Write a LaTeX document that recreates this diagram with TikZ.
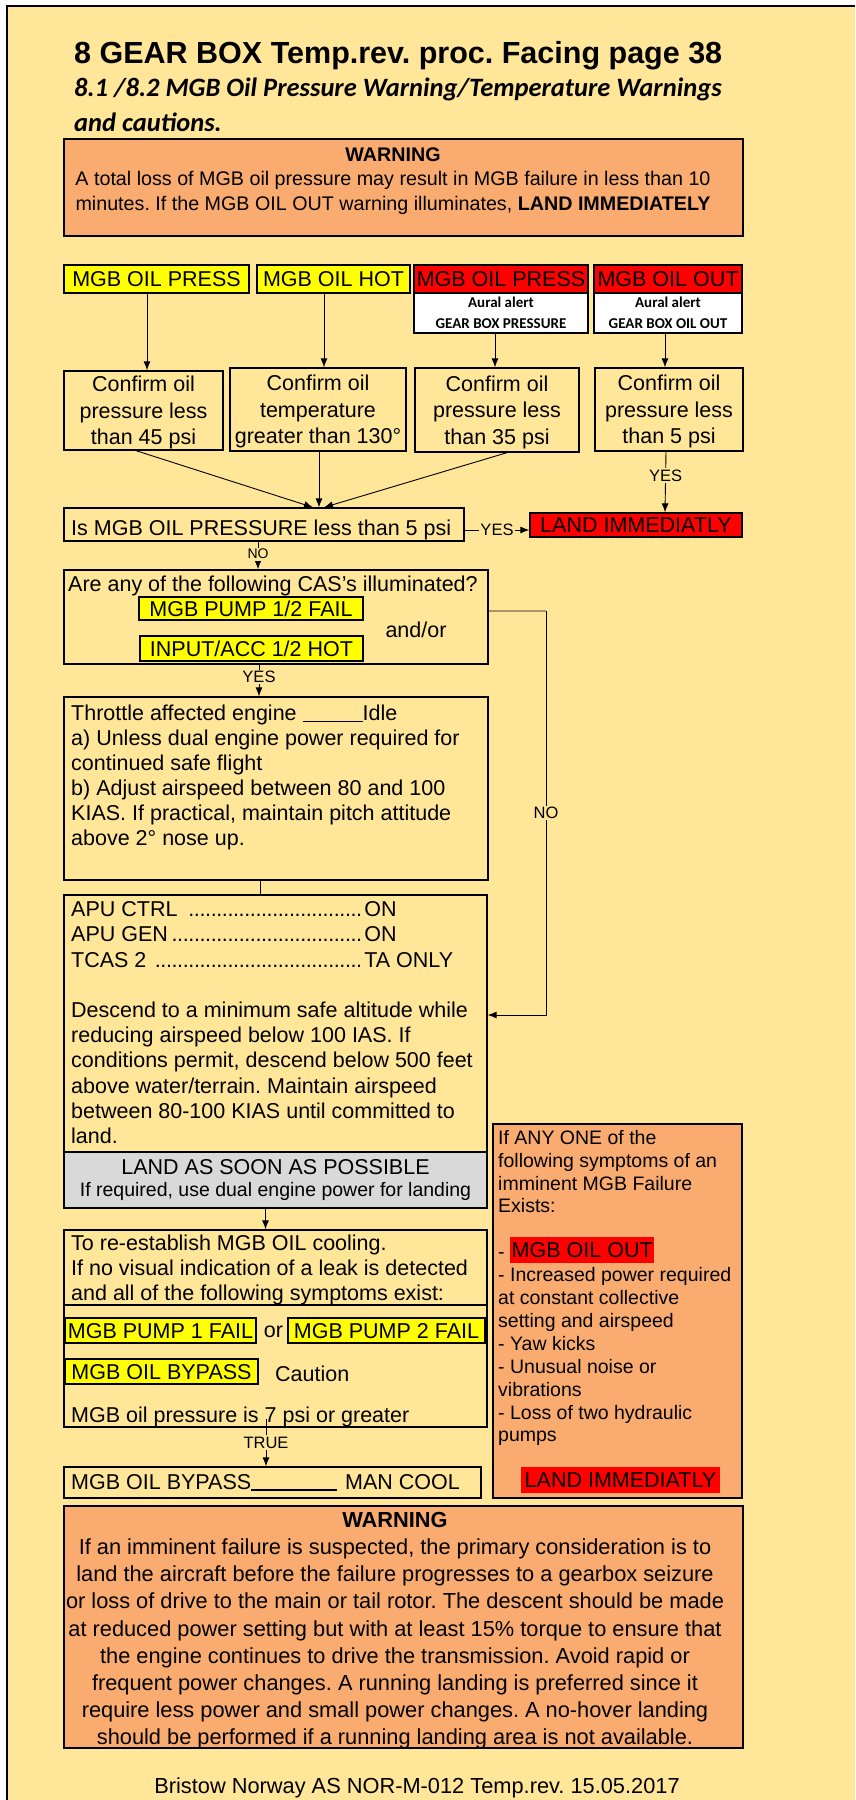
\documentclass[tikz,border=0pt]{standalone}
\usepackage{fontspec}
\setmainfont{Liberation Sans}
\newfontfamily\calibfont{Carlito}
\usetikzlibrary{arrows.meta}
\frenchspacing

\definecolor{bgyellow}{RGB}{255,230,153}
\definecolor{warnorange}{RGB}{250,172,112}
\definecolor{alertred}{RGB}{255,0,0}
\definecolor{alertyellow}{RGB}{255,255,0}
\definecolor{landgray}{RGB}{217,217,217}
\definecolor{tanline}{RGB}{168,150,104}
\newcommand\fsz[2]{\fontsize{#1}{#2}\selectfont}
\newcommand\dotlead{\leaders\hbox to 0.26em{\hss.\hss}\hfill}

\begin{document}
\begin{tikzpicture}[x=1pt, y=-1pt,
  bx/.style={draw=black, line width=1.3pt, inner sep=0pt},
  yel/.style={bx, fill=alertyellow, font=\fsz{21.5}{25}, text height=15.5pt, text depth=0pt},
  redbx/.style={bx, fill=alertred, font=\fsz{21.5}{25}, text height=15.5pt, text depth=0pt},
  hl/.style={fill=alertred, inner sep=0pt, font=\fsz{21.5}{25}, text height=15.5pt, text depth=0pt},
  aural/.style={bx, fill=white, align=center, font=\calibfont\fsz{15}{21}\bfseries},
  cf/.style={bx, align=center, font=\fsz{21.5}{26.7}, text depth=0pt},
  txt/.style={anchor=north west, inner sep=0pt, align=left},
  line/.style={anchor=base west, inner sep=0pt, font=\fsz{21.5}{25}},
  tag/.style={fill=bgyellow, inner sep=1.5pt, font=\fsz{16.5}{18}},
  conn/.style={line width=0.9pt},
  arr/.style={conn, -{Latex[length=9pt,width=7pt]}}
]
\useasboundingbox (0,0) rectangle (855,1800);

% Page
\fill[bgyellow] (7,6) rectangle (855,1800);
\draw[line width=2.4pt] (7,1800) -- (7,6) -- (855,6);

% Heading
\node[anchor=base west, inner sep=0pt, font=\fsz{30.5}{36}\bfseries] (title) at (74,63) {8 GEAR BOX Temp.rev. proc. Facing page 38};
\node[anchor=base west, inner sep=0pt, font=\calibfont\fsz{26.5}{32}\bfseries\itshape] (subA) at (74,96) {8.1 /8.2 MGB Oil Pressure Warning/Temperature Warnings};
\node[anchor=base west, inner sep=0pt, font=\calibfont\fsz{26.5}{32}\bfseries\itshape] (subB) at (74,131) {and cautions.};

% Top warning
\node[bx, fill=warnorange, minimum width=679pt, minimum height=97pt] (warnA) at (403.5,187.5) {};
\node[txt, anchor=north, align=center, font=\fsz{19.7}{24.5}] (warnATxt) at (393,141.3) {\rule{0pt}{1em}\textbf{WARNING}\\A total loss of MGB oil pressure may result in MGB failure in less than 10\\minutes. If the MGB OIL OUT warning illuminates, \textbf{LAND IMMEDIATELY}};

% Cautions and warnings
\node[yel, minimum width=185pt, minimum height=28pt] (alPress) at (156.5,279) {MGB OIL PRESS};
\node[yel, minimum width=153pt, minimum height=28pt] (alHot) at (333.5,279) {MGB OIL HOT};
\node[redbx, minimum width=174pt, minimum height=28pt] (wnPress) at (501,279) {MGB OIL PRESS};
\node[aural, minimum width=174pt, minimum height=40pt] (auPress) at (501,313) {Aural alert\\GEAR BOX PRESSURE};
\node[redbx, minimum width=148pt, minimum height=28pt] (wnOut) at (668,279) {MGB OIL OUT};
\node[aural, minimum width=148pt, minimum height=40pt] (auOut) at (668,313) {Aural alert\\GEAR BOX OIL OUT};

% Confirm boxes
\node[cf, minimum width=159pt, minimum height=79pt] (cfPress) at (143.5,410.5) {Confirm oil\\pressure less\\than 45 psi};
\node[cf, minimum width=176pt, minimum height=83pt] (cfHot) at (318,409.5) {Confirm oil\\temperature\\greater than 130°};
\node[cf, minimum width=164pt, minimum height=84pt] (cfWarn) at (497,410) {Confirm oil\\pressure less\\than 35 psi};
\node[cf, minimum width=148pt, minimum height=83pt] (cfOut) at (669,409.5) {Confirm oil\\pressure less\\than 5 psi};

\draw[arr] ([xshift=-9.5pt]alPress.south) -- ([xshift=3.5pt]cfPress.north);
\draw[arr] ([xshift=-9.5pt]alHot.south) -- ([xshift=6pt]cfHot.north);
\draw[arr] ([xshift=-6pt]auPress.south) -- ([xshift=-2pt]cfWarn.north);
\draw[arr] ([xshift=-3pt]auOut.south) -- ([xshift=-4pt]cfOut.north);

% Pressure check
\node[bx, minimum width=400pt, minimum height=33pt] (isLow) at (264,524.5) {};
\node[line] (isLowTxt) at (71,535) {Is MGB OIL PRESSURE less than 5 psi};
\node[redbx, minimum width=212pt, minimum height=24pt] (landNow) at (636,525) {LAND IMMEDIATLY};

\draw[arr] ([xshift=-7.5pt]cfPress.south) -- ([xshift=49pt]isLow.north);
\draw[arr] ([xshift=1pt]cfHot.south) -- ([xshift=55pt]isLow.north);
\draw[arr] ([xshift=10pt]cfWarn.south) -- ([xshift=60pt]isLow.north);
\draw[arr] ([xshift=-3pt]cfOut.south) -- node[tag, pos=0.39] (yesOut) {YES} ([xshift=29pt]landNow.north);
\draw[arr] ([yshift=-5.5pt]isLow.east) -- node[tag] (yesLow) {YES} ([yshift=-5pt]landNow.west);

% CAS check
\node[bx, minimum width=424pt, minimum height=94pt] (cas) at (276,617) {};
\node[line] (casTxt) at (68,591) {Are any of the following CAS’s illuminated?};
\node[yel, minimum width=224pt, minimum height=23pt] (casPump) at (251,608.5) {MGB PUMP 1/2 FAIL};
\node[line, anchor=base] (casOr) at (416,637.5) {and/or};
\node[yel, minimum width=223pt, minimum height=25pt] (casInput) at (251.5,648.5) {INPUT/ACC 1/2 HOT};

\draw[arr] ([xshift=-6pt]isLow.south) -- node[tag, pos=0.45, font=\fsz{14}{16}] (noLow) {NO} ([xshift=-18pt]cas.north);

% Throttle
\node[bx, minimum width=424pt, minimum height=183pt] (throttle) at (276,788.5) {};
\node[txt, font=\fsz{21.5}{25}] (throttleTxt) at (71,698.5) {\rule{0pt}{1em}Throttle affected engine \rule[-2pt]{60pt}{1.1pt}Idle\\a) Unless dual engine power required for\\continued safe flight\\b) Adjust airspeed between 80 and 100\\KIAS. If practical, maintain pitch attitude\\above 2° nose up.};

\draw[arr] ([xshift=-17pt]cas.south) -- node[tag, pos=0.39] (yesCas) {YES} ([xshift=-17pt]throttle.north);

% APU and descent
\node[bx, minimum width=423pt, minimum height=257pt] (apu) at (275.5,1023.5) {};
\node[txt, font=\fsz{21.5}{25.2}] (apuTxt) at (71,895) {\rule{0pt}{1em}\makebox[293pt][l]{APU CTRL \dotlead}ON\\\makebox[293pt][l]{APU GEN\dotlead}ON\\\makebox[293pt][l]{TCAS 2 \dotlead}TA ONLY\\\mbox{}\\Descend to a minimum safe altitude while\\reducing airspeed below 100 IAS. If\\conditions permit, descend below 500 feet\\above water/terrain. Maintain airspeed\\between 80-100 KIAS until committed to\\land.};
\node[bx, fill=landgray, align=center, minimum width=423pt, minimum height=56pt, font=\fsz{21.5}{22.5}] (asap) at (275.5,1180) {LAND AS SOON AS POSSIBLE\\{\fsz{19.5}{22.5}If required, use dual engine power for landing}};

\draw[conn] ([xshift=-16pt]throttle.south) -- ([xshift=-15.5pt]apu.north);

\coordinate (noTurn) at (546,611);
\coordinate (apuIn) at ([yshift=8.5pt]apu.east);
\draw[line width=2pt, tanline] ([yshift=6pt]cas.east) -- (noTurn);
\draw[arr] (noTurn) -- node[tag] (noCas) {NO} (noTurn |- apuIn) -- (apuIn);

% Oil cooling
\node[bx, minimum width=423pt, minimum height=75pt] (cool) at (275.5,1267.5) {};
\node[txt, font=\fsz{21.5}{25}] (coolTxt) at (71,1229) {\rule{0pt}{1em}To re-establish MGB OIL cooling.\\If no visual indication of a leak is detected\\and all of the following symptoms exist:};
\node[bx, minimum width=423pt, minimum height=122pt] (coolChk) at (275.5,1366) {};
\node[yel, minimum width=191pt, minimum height=25pt] (pumpA) at (160.5,1330.5) {MGB PUMP 1 FAIL};
\node[line, anchor=base] (pumpOr) at (273.5,1337) {or};
\node[yel, minimum width=197pt, minimum height=25pt] (pumpB) at (386.5,1330.5) {MGB PUMP 2 FAIL};
\node[yel, minimum width=193pt, minimum height=25pt] (bypass) at (161.5,1371.5) {MGB OIL BYPASS};
\node[line] (bypassCaut) at (275,1381) {Caution};
\node[line] (pressTxt) at (71,1422) {MGB oil pressure is 7 psi or greater};

\draw[arr] ([xshift=-10pt]asap.south) -- ([xshift=-10pt]cool.north);

\node[bx, minimum width=417pt, minimum height=31pt] (manCool) at (272.5,1482.5) {};
\node[line] (manCoolTxt) at (71,1489) {MGB OIL BYPASS\rule[-1.5pt]{86pt}{1.1pt}\hspace{8pt}MAN COOL};

\draw[arr] ([xshift=-9.5pt, yshift=9pt]coolChk.south) -- node[tag] (trueTag) {TRUE} ([xshift=-6.5pt]manCool.north);

% Symptoms
\node[bx, fill=warnorange, minimum width=249pt, minimum height=374pt] (sympt) at (617.5,1311) {};
\node[txt, font=\fsz{19.5}{22.9}] (symptTxt) at (498,1124.5) {\rule{0pt}{1em}If ANY ONE of the\\following symptoms of an\\imminent MGB Failure\\Exists:\\\mbox{}\\-\\- Increased power required\\at constant collective\\setting and airspeed\\- Yaw kicks\\- Unusual noise or\\vibrations\\- Loss of two hydraulic\\pumps};
\node[hl, anchor=west, minimum width=144pt, minimum height=26pt] (symOut) at (510,1250) {MGB OIL OUT};
\node[hl, minimum width=199pt, minimum height=26pt] (symLand) at (620.5,1480) {LAND IMMEDIATLY};

% Bottom warning
\node[bx, fill=warnorange, minimum width=679pt, minimum height=242pt] (warnB) at (403.5,1627) {};
\node[txt, anchor=north, align=center, font=\fsz{21.8}{27.2}] (warnBTxt) at (395,1505.2) {\rule{0pt}{1em}\textbf{WARNING}\\If an imminent failure is suspected, the primary consideration is to\\land the aircraft before the failure progresses to a gearbox seizure\\or loss of drive to the main or tail rotor. The descent should be made\\at reduced power setting but with at least 15\% torque to ensure that\\the engine continues to drive the transmission. Avoid rapid or\\frequent power changes. A running landing is preferred since it\\require less power and small power changes. A no-hover landing\\should be performed if a running landing area is not available.};

% Footer
\node[anchor=base, inner sep=0pt, font=\fsz{21.8}{25}] (footer) at (417,1793) {Bristow Norway AS NOR-M-012 Temp.rev. 15.05.2017};

\end{tikzpicture}
\end{document}
